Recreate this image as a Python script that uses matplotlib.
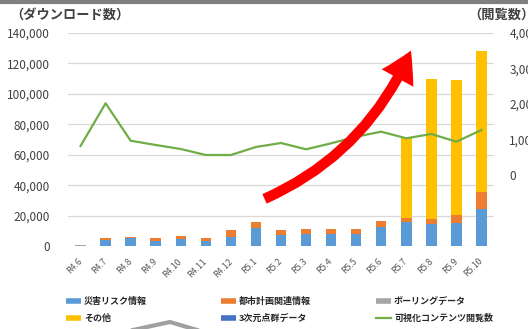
import numpy as np
import matplotlib
matplotlib.use("Agg")
import matplotlib.pyplot as plt
from matplotlib.lines import Line2D
from matplotlib.patches import FancyArrowPatch, ArrowStyle
from matplotlib.ticker import FuncFormatter, FixedLocator

plt.rcParams['font.family'] = ['Noto Sans CJK JP', 'DejaVu Sans']

# データ
months = ["R4.6", "R4.7", "R4.8", "R4.9", "R4.10", "R4.11", "R4.12", "R5.1", "R5.2",
          "R5.3", "R5.4", "R5.5", "R5.6", "R5.7", "R5.8", "R5.9", "R5.10"]
disaster = [0, 4000, 5300, 3500, 4700, 3300, 6100, 11600, 7200, 8000, 7600, 7700, 12300,
            15600, 14300, 15300, 24100]
urban = [0, 1500, 300, 1500, 2000, 1800, 4700, 4000, 3300, 3500, 3600, 3700, 4100,
         3000, 3500, 4900, 11600]
boring = [600, 0, 0, 0, 0, 0, 0, 0, 0, 0, 0, 0, 0, 0, 0, 0, 0]
other = [0, 0, 0, 0, 0, 0, 0, 0, 0, 0, 0, 0, 0, 53300, 91900, 88600, 92200]
pointcloud = [0] * 17
views = [817, 2020, 966, 845, 732, 563, 563, 789, 901, 724, 893, 1079, 1220, 1034, 1155, 938, 1268]

series = [("災害リスク情報", disaster, "#5B9BD5"),
          ("都市計画関連情報", urban, "#ED7D31"),
          ("ボーリングデータ", boring, "#A5A5A5"),
          ("その他", other, "#FFC000"),
          ("3次元点群データ", pointcloud, "#4472C4")]
line_label = "可視化コンテンツ閲覧数"
line_color = "#70AD47"

W, H = 528, 329
fig = plt.figure(figsize=(W / 100, H / 100), dpi=100)
fig.patch.set_facecolor("white")

def px(x, y):
    return (x / W, 1 - y / H)

ax = fig.add_axes([68 / W, 1 - 246 / H, (494 - 68) / W, (246 - 33) / H])
x = np.arange(len(months))

# 積み上げ棒
bottom = np.zeros(len(months))
for name, vals, col in series:
    vals = np.array(vals, dtype=float)
    ax.bar(x, vals, width=0.42, bottom=bottom, color=col, zorder=2)
    bottom += vals

ax.set_xlim(-0.5, len(months) - 0.5)
ax.set_ylim(0, 140000)
ax.yaxis.set_major_locator(FixedLocator(np.arange(0, 140001, 20000)))
ax.yaxis.set_major_formatter(FuncFormatter(lambda v, p: f"{int(v):,}"))
ax.grid(axis="y", color="#D9D9D9", lw=0.9, zorder=0)
ax.set_axisbelow(True)
for s in ax.spines.values():
    s.set_visible(False)
ax.tick_params(axis="y", length=0, pad=13, labelsize=8.5, labelcolor="#404040")
ax.tick_params(axis="x", length=0, pad=10)
ax.set_xticks(x)
ax.set_xticklabels(months, rotation=45, ha="right", va="center", rotation_mode="anchor",
                   fontsize=6.3, color="#595959")

# 閲覧数（右軸）
ax2 = ax.twinx()
ax2.plot(x, views, color=line_color, lw=1.6, zorder=5)
ax2.set_ylim(-2000, 4000)
ax2.yaxis.set_major_locator(FixedLocator(np.arange(0, 4001, 1000)))
ax2.yaxis.set_major_formatter(FuncFormatter(lambda v, p: f"{int(v):,}"))
for s in ax2.spines.values():
    s.set_visible(False)
ax2.tick_params(axis="y", length=0, pad=11, labelsize=8.5, labelcolor="#404040")

# 軸タイトル
fig.text(*px(10, 15), "（ダウンロード数）", ha="left", va="center", fontsize=9.5,
         color="#404040", fontweight="bold")
fig.text(*px(468, 15), "（閲覧数）", ha="left", va="center", fontsize=9.5,
         color="#404040", fontweight="bold")

# 凡例（列ごとに配置）
handles = [Line2D([], [], color=c, lw=4, solid_capstyle="butt") for _, _, c in series]
handles.append(Line2D([], [], color=line_color, lw=1.6))
labels = [s[0] for s in series] + [line_label]
columns = [([0, 3], 66), ([1, 4], 221), ([2, 5], 376)]
for idx, left in columns:
    fig.legend([handles[i] for i in idx], [labels[i] for i in idx],
               loc="upper left", bbox_to_anchor=px(left, 297), frameon=False,
               handlelength=1.7, handletextpad=0.3,
               labelspacing=0.85, borderaxespad=0, borderpad=0,
               labelcolor="#262626", prop={"weight": "bold", "size": 6.5})

# 赤い矢印
arrow = FancyArrowPatch(px(262, 200), px(412, 48), transform=fig.transFigure,
                        connectionstyle="arc3,rad=0.2",
                        arrowstyle=ArrowStyle.Simple(head_length=22, head_width=26, tail_width=7.5),
                        mutation_scale=1, color="#FF0000", lw=0, zorder=10)
fig.patches.append(arrow)

# 上端の枠線と下の図形
fig.add_artist(Line2D([0, 1], [1 - 2 / H, 1 - 2 / H], transform=fig.transFigure,
                      color="#7F7F7F", lw=3))
xs, ys = zip(px(133, 330), px(170, 322), px(197, 330))
fig.add_artist(Line2D(xs, ys, transform=fig.transFigure, color="#A0A0A0", lw=3))

fig.savefig("out.png", dpi=100)
